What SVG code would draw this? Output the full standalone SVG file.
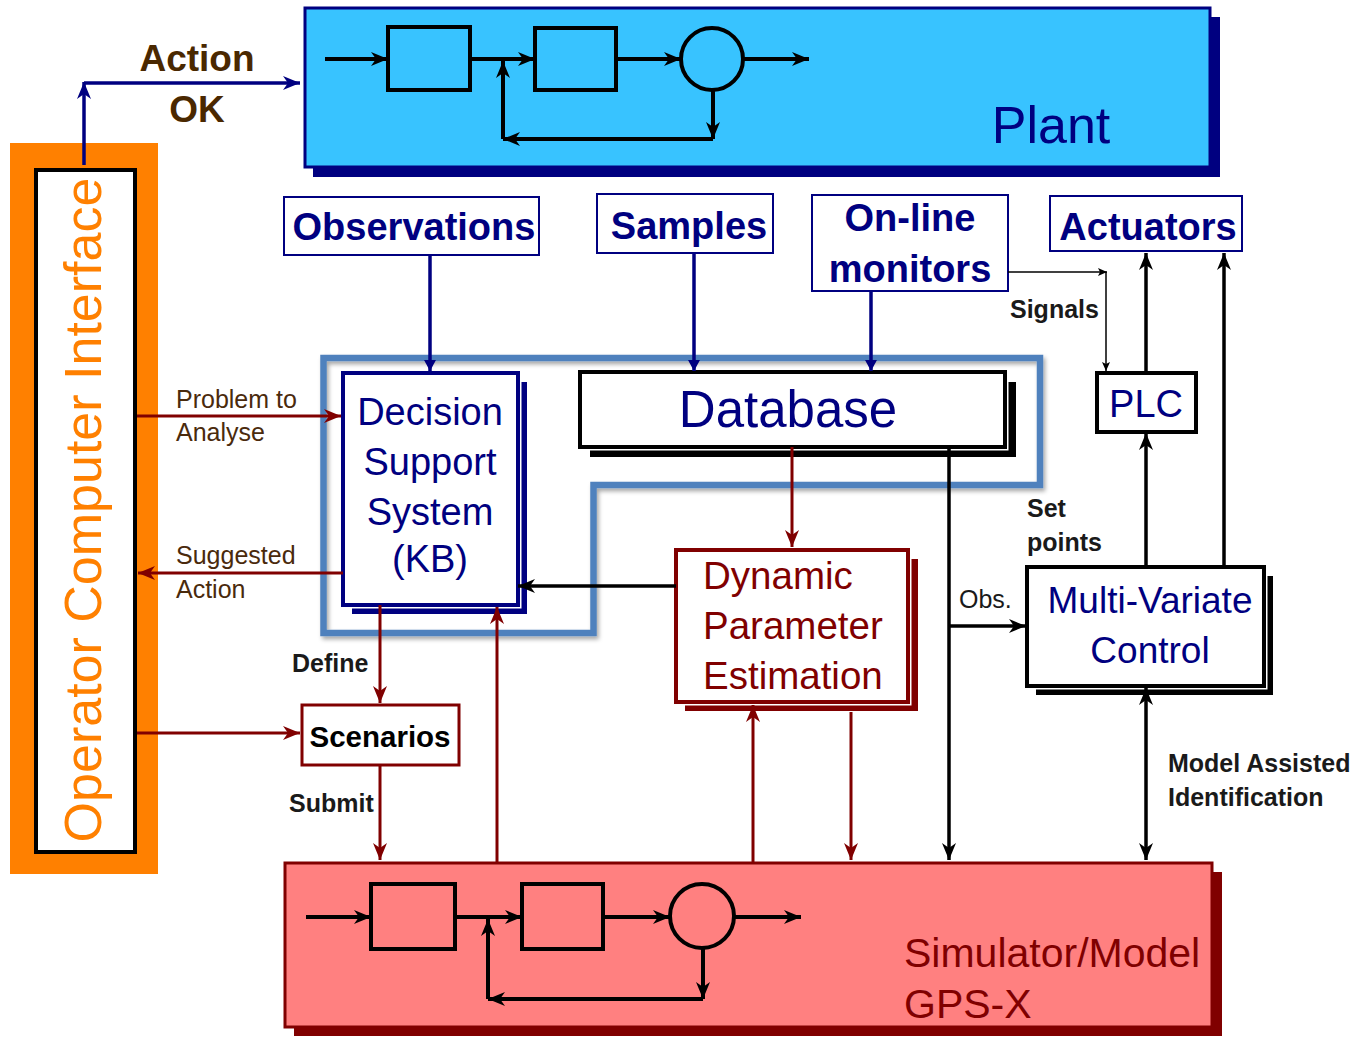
<svg xmlns="http://www.w3.org/2000/svg" width="1360" height="1037" viewBox="0 0 1360 1037">
<defs>
<style>
text{font-family:"Liberation Sans",Arial,Helvetica,sans-serif}
.b{font-weight:bold}
.nv{fill:#000080}
.dr{fill:#800000}
.lbl{fill:#1a1a1a;font-weight:bold;font-size:25px}
.brn{fill:#4a2a0c;font-size:25px}
.inner{fill:none;stroke:#000;stroke-width:4}
.iline{stroke:#000;stroke-width:4;fill:none;marker-end:url(#aIn)}
.cb{stroke:#000;stroke-width:3.5;fill:none;marker-end:url(#aBlk)}
.cr{stroke:#800000;stroke-width:3;fill:none;marker-end:url(#aRed)}
.cn{stroke:#000080;stroke-width:3.5;fill:none;marker-end:url(#aNvS)}
.box{fill:#fff;stroke:#000080;stroke-width:2}
</style>
<marker id="aIn" markerUnits="userSpaceOnUse" markerWidth="18" markerHeight="16" refX="17" refY="8" orient="auto"><path d="M0,1 L17,8 L0,15 L5,8 z" fill="#000"/></marker>
<marker id="aBlk" markerUnits="userSpaceOnUse" markerWidth="18" markerHeight="16" refX="17" refY="8" orient="auto-start-reverse"><path d="M0,1 L17,8 L0,15 L5,8 z" fill="#000"/></marker>
<marker id="aRed" markerUnits="userSpaceOnUse" markerWidth="18" markerHeight="16" refX="17" refY="8" orient="auto"><path d="M0,1 L17,8 L0,15 L5,8 z" fill="#800000"/></marker>
<marker id="aNv" markerUnits="userSpaceOnUse" markerWidth="18" markerHeight="16" refX="17" refY="8" orient="auto"><path d="M0,1 L17,8 L0,15 L5,8 z" fill="#000080"/></marker>
<marker id="aNvS" markerUnits="userSpaceOnUse" markerWidth="12" markerHeight="12" refX="11" refY="6" orient="auto"><path d="M0,0 L11,6 L0,12 z" fill="#000080"/></marker>
<marker id="aThin" markerUnits="userSpaceOnUse" markerWidth="10" markerHeight="10" refX="9" refY="5" orient="auto"><path d="M0,1 L9,5 L0,9 L2,5 z" fill="#000"/></marker>
<filter id="sh" x="-5%" y="-5%" width="110%" height="115%"><feDropShadow dx="2" dy="3" stdDeviation="2" flood-color="#000" flood-opacity="0.35"/></filter>
</defs>

<g id="plant">
<rect x="313" y="17" width="907" height="160" fill="#000080"/>
<rect x="305" y="8" width="905" height="159" fill="#38C3FF" stroke="#000080" stroke-width="3"/>
<rect x="388" y="27" width="82" height="63" class="inner"/>
<rect x="535" y="28" width="81" height="62" class="inner"/>
<circle cx="712" cy="59" r="31" class="inner"/>
<line x1="325" y1="59" x2="388" y2="59" class="iline"/>
<line x1="470" y1="59" x2="535" y2="59" class="iline"/>
<line x1="616" y1="59" x2="681" y2="59" class="iline"/>
<line x1="743" y1="59" x2="809" y2="59" class="iline"/>
<line x1="713" y1="90" x2="713" y2="139" class="iline"/>
<line x1="713" y1="139" x2="503" y2="139" class="iline"/>
<line x1="503" y1="139" x2="503" y2="61" class="iline"/>
<text x="1051" y="143" font-size="52" text-anchor="middle" class="nv">Plant</text>
</g>

<g id="operator">
<rect x="10" y="143" width="148" height="731" fill="#FF8000"/>
<rect x="36" y="170" width="99" height="682" fill="#fff" stroke="#000" stroke-width="4"/>
<text transform="translate(101,510) rotate(-90)" font-size="52" text-anchor="middle" fill="#FF8000">Operator Computer Interface</text>
</g>

<g id="observations">
<rect x="284" y="197" width="255" height="58" class="box"/>
<text x="414" y="240" font-size="38" text-anchor="middle" class="nv b">Observations</text>
</g>
<g id="samples">
<rect x="597" y="194" width="176" height="59" class="box"/>
<text x="689" y="239" font-size="38" text-anchor="middle" class="nv b">Samples</text>
</g>
<g id="monitors">
<rect x="812" y="195" width="196" height="96" class="box"/>
<text x="910" y="231" font-size="38" text-anchor="middle" class="nv b">On-line</text>
<text x="910" y="282" font-size="38" text-anchor="middle" class="nv b">monitors</text>
</g>
<g id="actuators">
<rect x="1050" y="196" width="192" height="55" class="box"/>
<text x="1148" y="240" font-size="38" text-anchor="middle" class="nv b">Actuators</text>
</g>

<g id="dss">
<rect x="352" y="382" width="175" height="232" fill="#000080"/>
<rect x="343" y="373" width="175" height="232" fill="#fff" stroke="#fff" stroke-width="7"/>
<rect x="343" y="373" width="175" height="232" fill="#fff" stroke="#000080" stroke-width="4"/>
<text x="430" y="425" font-size="38" text-anchor="middle" class="nv">Decision</text>
<text x="430" y="475" font-size="38" text-anchor="middle" class="nv">Support</text>
<text x="430" y="525" font-size="38" text-anchor="middle" class="nv">System</text>
<text x="430" y="572" font-size="38" text-anchor="middle" class="nv">(KB)</text>
</g>

<g id="database">
<rect x="590" y="382" width="426" height="75" fill="#000"/>
<rect x="580" y="372" width="425" height="75" fill="#fff" stroke="#fff" stroke-width="7"/>
<rect x="580" y="372" width="425" height="75" fill="#fff" stroke="#000" stroke-width="4"/>
<text x="788" y="427" font-size="51" text-anchor="middle" class="nv">Database</text>
</g>

<g id="plc">
<rect x="1097" y="373" width="99" height="59" fill="#fff" stroke="#000" stroke-width="4"/>
<text x="1146" y="417" font-size="38" text-anchor="middle" class="nv">PLC</text>
</g>

<g id="dpe">
<rect x="685" y="559" width="233" height="152" fill="#800000"/>
<rect x="676" y="550" width="232" height="152" fill="#fff" stroke="#fff" stroke-width="7"/>
<rect x="676" y="550" width="232" height="152" fill="#fff" stroke="#800000" stroke-width="4"/>
<text x="703" y="589" font-size="38.5" class="dr">Dynamic</text>
<text x="703" y="639" font-size="38.5" class="dr">Parameter</text>
<text x="703" y="689" font-size="38.5" class="dr">Estimation</text>
</g>

<g id="mvc">
<rect x="1036" y="576" width="237" height="119" fill="#000"/>
<rect x="1027" y="567" width="237" height="119" fill="#fff" stroke="#fff" stroke-width="7"/>
<rect x="1027" y="567" width="237" height="119" fill="#fff" stroke="#000" stroke-width="4"/>
<text x="1150" y="613" font-size="37" text-anchor="middle" class="nv">Multi-Variate</text>
<text x="1150" y="663" font-size="37" text-anchor="middle" class="nv">Control</text>
</g>

<g id="scenarios">
<rect x="302" y="705" width="157" height="60" fill="#fff" stroke="#800000" stroke-width="3"/>
<text x="380" y="747" font-size="29.5" text-anchor="middle" class="b" fill="#000">Scenarios</text>
</g>

<g id="simulator">
<rect x="294" y="872" width="928" height="164" fill="#800000"/>
<rect x="285" y="863" width="927" height="164" fill="#FF8080" stroke="#800000" stroke-width="3"/>
<rect x="371" y="884" width="84" height="65" class="inner"/>
<rect x="522" y="884" width="81" height="65" class="inner"/>
<circle cx="702" cy="916" r="32" class="inner"/>
<line x1="306" y1="917" x2="371" y2="917" class="iline"/>
<line x1="455" y1="917" x2="522" y2="917" class="iline"/>
<line x1="603" y1="917" x2="670" y2="917" class="iline"/>
<line x1="734" y1="917" x2="801" y2="917" class="iline"/>
<line x1="703" y1="948" x2="703" y2="999" class="iline"/>
<line x1="703" y1="999" x2="488" y2="999" class="iline"/>
<line x1="488" y1="999" x2="488" y2="919" class="iline"/>
<text x="904" y="967" font-size="41" class="dr">Simulator/Model</text>
<text x="904" y="1018" font-size="41" class="dr">GPS-X</text>
</g>

<g id="dss-database-frame" filter="url(#sh)">
<path d="M323.5,358 H1040 V485 H593.5 V633 H323.5 Z" fill="none" stroke="#4F81BD" stroke-width="6.5" stroke-linejoin="miter"/>
</g>

<g id="connectors">
<line x1="84" y1="165" x2="84" y2="82" stroke="#000080" stroke-width="3.5" marker-end="url(#aNv)"/>
<line x1="84" y1="83" x2="300" y2="83" stroke="#000080" stroke-width="3.5" marker-end="url(#aNv)"/>
<text x="197" y="71" font-size="37" text-anchor="middle" class="b" fill="#4a2800">Action</text>
<text x="197" y="122" font-size="37" text-anchor="middle" class="b" fill="#4a2800">OK</text>

<line x1="430" y1="255" x2="430" y2="371" class="cn"/>
<line x1="694" y1="253" x2="694" y2="371" class="cn"/>
<line x1="871" y1="291" x2="871" y2="371" class="cn"/>

<line x1="1008" y1="272" x2="1107" y2="272" stroke="#000" stroke-width="1.5" marker-end="url(#aThin)"/>
<line x1="1106" y1="272" x2="1106" y2="371" stroke="#000" stroke-width="1.5" marker-end="url(#aThin)"/>
<text x="1010" y="318" class="lbl">Signals</text>

<line x1="1146" y1="373" x2="1146" y2="253" class="cb"/>
<line x1="1146" y1="567" x2="1146" y2="433" class="cb"/>
<line x1="1224" y1="567" x2="1224" y2="253" class="cb"/>
<line x1="1146" y1="688" x2="1146" y2="860" class="cb" marker-start="url(#aBlk)"/>
<text x="1027" y="517" class="lbl">Set</text>
<text x="1027" y="551" class="lbl">points</text>
<text x="1168" y="772" class="lbl">Model Assisted</text>
<text x="1168" y="806" class="lbl">Identification</text>

<line x1="949" y1="447" x2="949" y2="860" class="cb"/>
<line x1="949" y1="626" x2="1026" y2="626" class="cb"/>
<text x="959" y="608" font-size="25" fill="#1a1a1a">Obs.</text>

<line x1="792" y1="447" x2="792" y2="547" class="cr"/>
<line x1="676" y1="586" x2="518" y2="586" class="cb"/>
<line x1="753" y1="863" x2="753" y2="705" class="cr"/>
<line x1="851" y1="712" x2="851" y2="860" class="cr"/>
<line x1="497" y1="863" x2="497" y2="607" class="cr"/>
<line x1="380" y1="605" x2="380" y2="703" class="cr"/>
<line x1="380" y1="766" x2="380" y2="860" class="cr"/>
<line x1="137" y1="733" x2="300" y2="733" class="cr"/>
<line x1="137" y1="416" x2="341" y2="416" class="cr"/>
<line x1="343" y1="573" x2="138" y2="573" class="cr"/>

<text x="176" y="408" class="brn">Problem to</text>
<text x="176" y="441" class="brn">Analyse</text>
<text x="176" y="564" class="brn">Suggested</text>
<text x="176" y="598" class="brn">Action</text>
<text x="292" y="672" class="lbl">Define</text>
<text x="289" y="812" class="lbl">Submit</text>
</g>
</svg>
